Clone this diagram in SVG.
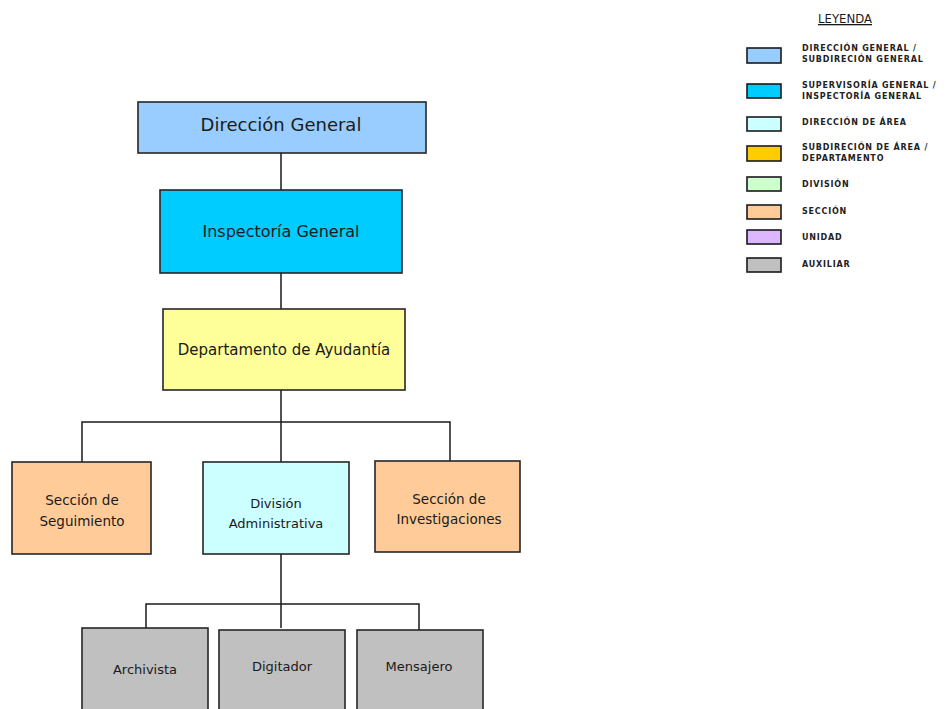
<svg xmlns="http://www.w3.org/2000/svg" width="952" height="709" viewBox="0 0 952 709">
<style>
.b{stroke:#262626;stroke-width:1.6}
.t{font-family:"DejaVu Sans",sans-serif;fill:#1a1a1a;text-anchor:middle}
.c{stroke:#1a1a1a;stroke-width:1.5;fill:none}
.lg{font-family:"DejaVu Sans",sans-serif;font-weight:bold;font-size:8px;fill:#222;letter-spacing:0.8px}
.lb{stroke:#1a1a1a;stroke-width:1.6}
</style>
<rect width="952" height="709" fill="#fff"/>
<g id="connectors">
<path class="c" d="M281 153V190M281 273V309M281 390V462M82 462V422H450V461M281 554V628M146 628V604H419V630"/>
</g>
<g id="n1"><rect class="b" x="138" y="102" width="288" height="51" fill="#99CCFF"/><text class="t" x="281" y="131" font-size="18">Dirección General</text></g>
<g id="n2"><rect class="b" x="160" y="190" width="242" height="83" fill="#00CCFF"/><text class="t" x="281" y="237" font-size="16">Inspectoría General</text></g>
<g id="n3"><rect class="b" x="163" y="309" width="242" height="81" fill="#FFFF99"/><text class="t" x="284" y="355" font-size="15">Departamento de Ayudantía</text></g>
<g id="n4"><rect class="b" x="12" y="462" width="139" height="92" fill="#FFCC99"/><text class="t" x="82" y="505" font-size="13.5">Sección de</text><text class="t" x="82" y="526" font-size="13.5">Seguimiento</text></g>
<g id="n5"><rect class="b" x="203" y="462" width="146" height="92" fill="#CCFFFF"/><text class="t" x="276" y="508" font-size="13">División</text><text class="t" x="276" y="528" font-size="13">Administrativa</text></g>
<g id="n6"><rect class="b" x="375" y="461" width="145" height="91" fill="#FFCC99"/><text class="t" x="449" y="504" font-size="13.5">Sección de</text><text class="t" x="449" y="524" font-size="13.5">Investigaciones</text></g>
<g id="n7"><rect class="b" x="82" y="628" width="126" height="90" fill="#C0C0C0"/><text class="t" x="145" y="674" font-size="13">Archivista</text></g>
<g id="n8"><rect class="b" x="219" y="630" width="126" height="90" fill="#C0C0C0"/><text class="t" x="282" y="671" font-size="13">Digitador</text></g>
<g id="n9"><rect class="b" x="357" y="630" width="126" height="90" fill="#C0C0C0"/><text class="t" x="419" y="671" font-size="13">Mensajero</text></g>
<g id="legend">
<text x="845" y="23" font-family="'DejaVu Sans Condensed','DejaVu Sans',sans-serif" font-size="13" fill="#1a1a1a" text-anchor="middle" text-decoration="underline">LEYENDA</text>
<rect class="lb" x="747" y="48" width="34" height="15" fill="#99CCFF"/>
<text class="lg" x="802" y="51">DIRECCIÓN GENERAL /</text><text class="lg" x="802" y="62">SUBDIRECIÓN GENERAL</text>
<rect class="lb" x="747" y="84" width="34" height="14" fill="#00CCFF"/>
<text class="lg" x="802" y="88">SUPERVISORÍA GENERAL /</text><text class="lg" x="802" y="99">INSPECTORÍA GENERAL</text>
<rect class="lb" x="747" y="117" width="34" height="14" fill="#CCFFFF"/>
<text class="lg" x="802" y="125">DIRECCIÓN DE ÁREA</text>
<rect class="lb" x="747" y="146" width="34" height="15" fill="#FFCC00"/>
<text class="lg" x="802" y="150">SUBDIRECIÓN DE ÁREA /</text><text class="lg" x="802" y="161">DEPARTAMENTO</text>
<rect class="lb" x="747" y="177" width="34" height="14" fill="#CCFFCC"/>
<text class="lg" x="802" y="187">DIVISIÓN</text>
<rect class="lb" x="747" y="205" width="34" height="14" fill="#FFCC99"/>
<text class="lg" x="802" y="214">SECCIÓN</text>
<rect class="lb" x="747" y="230" width="34" height="14" fill="#CC99FF" fill-opacity="0.7"/>
<text class="lg" x="802" y="240">UNIDAD</text>
<rect class="lb" x="747" y="258" width="34" height="14" fill="#C0C0C0"/>
<text class="lg" x="802" y="267">AUXILIAR</text>
</g>
</svg>
